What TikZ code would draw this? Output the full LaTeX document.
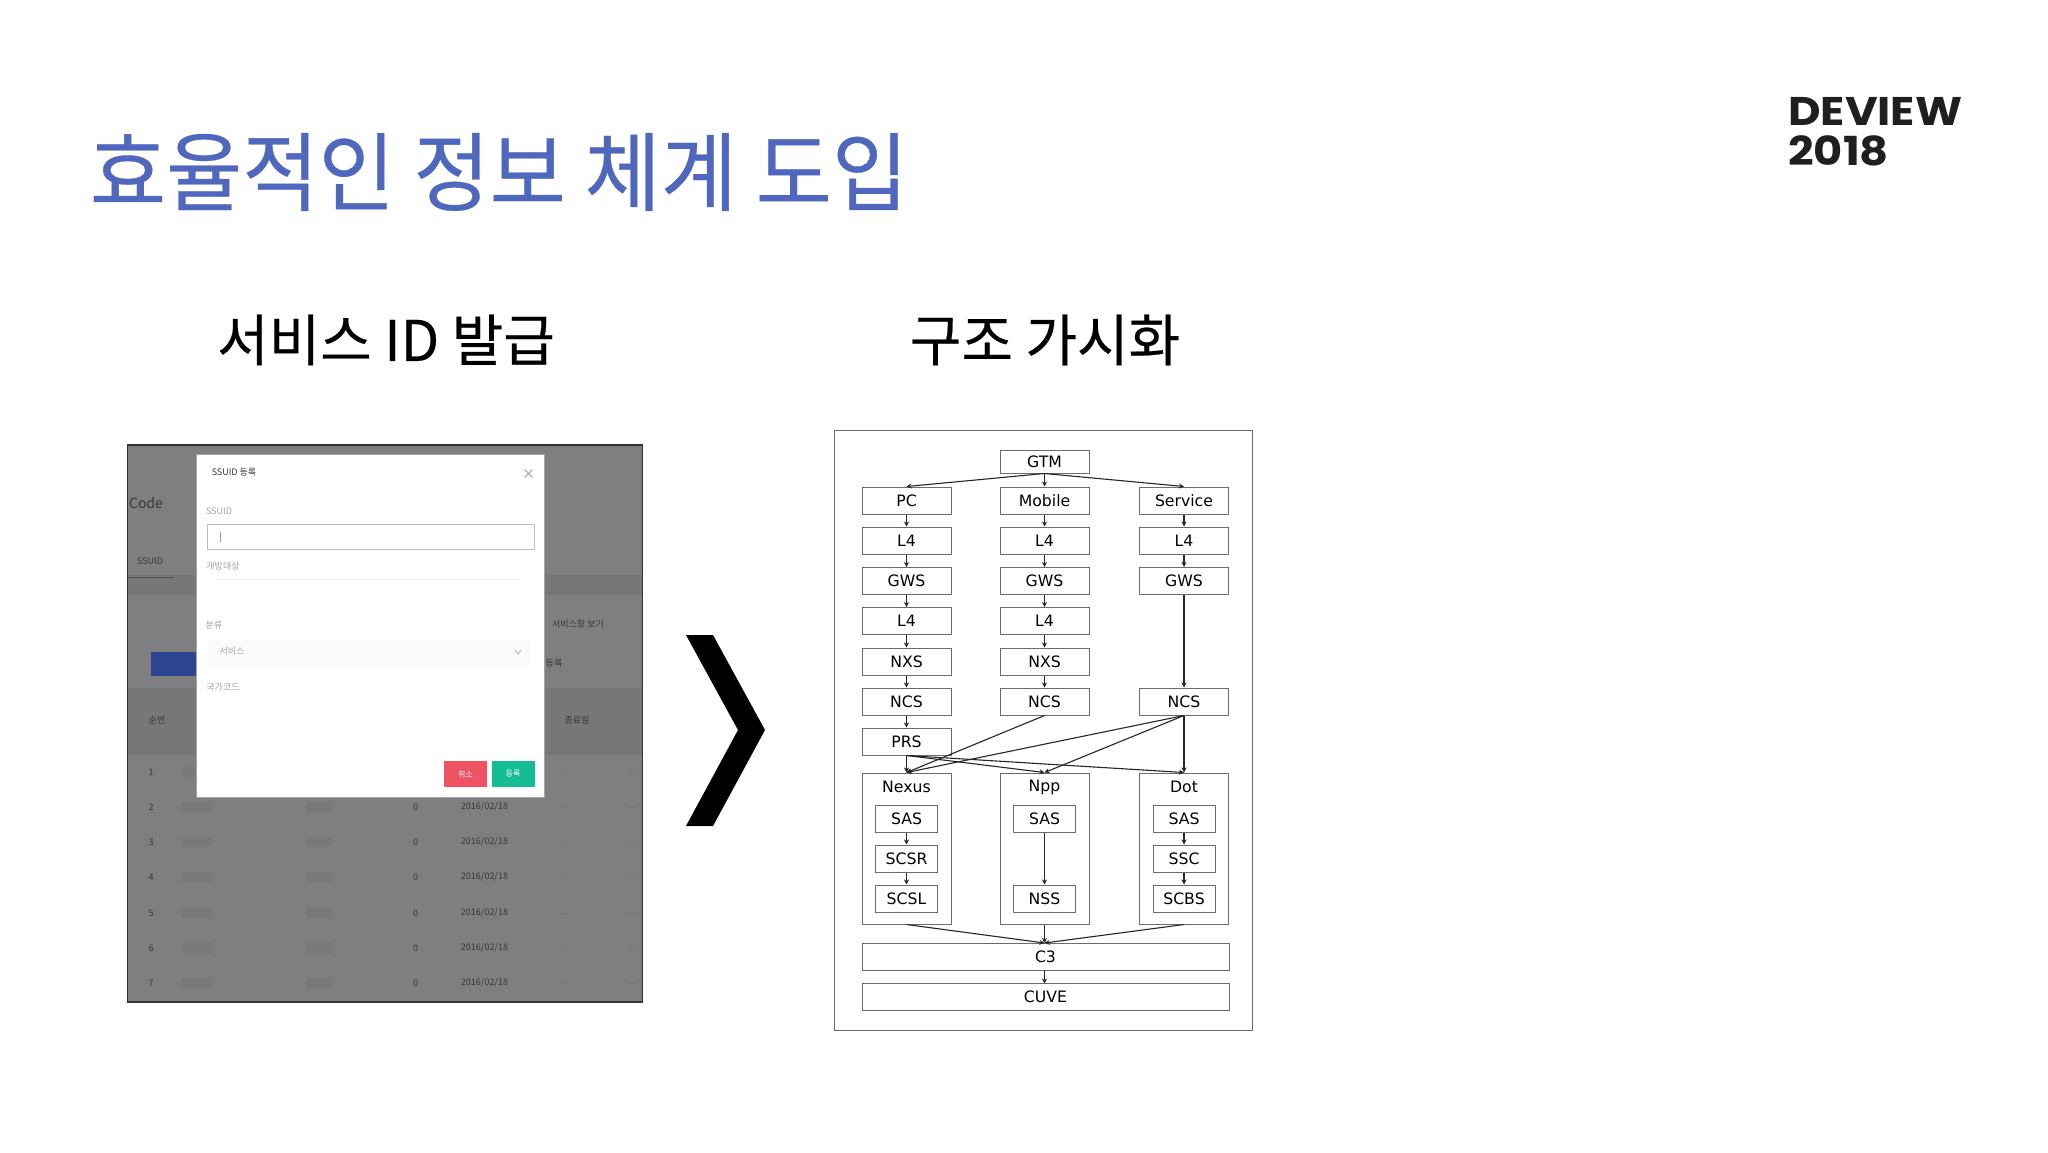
\documentclass[tikz,border=0pt]{standalone}
\usepackage{fontspec}
\setmainfont{Noto Sans CJK KR}
\newfontfamily\headfont[FakeBold=0.4]{Noto Sans CJK KR}
\newfontfamily\boxfont{DejaVu Sans}
\newfontfamily\logofont{Poppins}
\usetikzlibrary{arrows.meta, positioning}
\definecolor{titleblue}{HTML}{4F68BE}
\definecolor{dimgray}{HTML}{7F7F81}
\definecolor{darkgray}{HTML}{38383A}
\definecolor{midgray}{HTML}{777779}
\definecolor{blobgray}{HTML}{79797B}
\definecolor{formgray}{HTML}{A2A2A4}
\definecolor{cancelred}{HTML}{EE5364}
\definecolor{okgreen}{HTML}{16BC94}
\definecolor{addblue}{HTML}{2D4491}
\begin{document}
\begin{tikzpicture}[
    x=1pt, y=-1pt,
    srv/.style={draw=black!58, line width=1pt, fill=white, align=center, inner sep=0pt,
        minimum width=89pt, minimum height=27pt, font=\boxfont\fontsize{15.7}{18}\selectfont},
    sub/.style={srv, minimum width=62pt},
    group/.style={draw=black!58, line width=1pt, minimum width=89pt, minimum height=151pt},
    grouptitle/.style={inner sep=0pt, font=\boxfont\fontsize{15.7}{18}\selectfont},
    wide/.style={srv, minimum width=367pt},
    move/.style={-{Stealth[length=5pt,width=5pt]}, line width=1.1pt, black!85},
    heading/.style={font=\headfont\fontsize{56}{60}\selectfont, inner sep=0pt},
    shot/.style={inner sep=0pt, font=\fontsize{9}{10}\selectfont, text=#1},
    shot/.default=darkgray,
    button/.style={fill=#1, minimum width=43pt, minimum height=26pt, inner sep=0pt,
        text=white, font=\fontsize{8}{9}\selectfont}
]
\useasboundingbox (0,0) rectangle (2048,1152);
\fill[white] (0,0) rectangle (2048,1152);
% headings
\node[inner sep=0pt, xscale=0.964, text=titleblue, font=\headfont\fontsize{86}{90}\selectfont] (title) at (499,172) {효율적인 정보 체계 도입};
\node[heading] (left) at (386,340) {서비스 ID 발급};
\node[heading] (right) at (1045,340) {구조 가시화};
\node[anchor=west, inner sep=0pt, xscale=1.12, align=left, text=black!88, font=\logofont\fontsize{40}{40}\selectfont\bfseries] (logo) at (1788,132) {DEVIEW\\2018};
% screenshot
\node[draw=black!80, line width=1.5pt, fill=dimgray, minimum width=515pt, minimum height=557pt, inner sep=0pt] (shot) at (385,723.5) {};
\fill[midgray] (128,575) rectangle (642,595);
\fill[midgray] (128,688) rectangle (642,755);
\fill[addblue] (151,652) rectangle (197,676);
\node[shot, font=\fontsize{14}{16}\selectfont] (code) at (146,503) {Code};
\node[shot] (tab) at (150,561) {SSUID};
\draw[midgray!70!black, line width=1pt] (128,577) -- (174,577);
\node[shot] (head) at (157,720) {순번};
\node[shot] (find) at (578,624) {서비스찾 보기};
\node[shot] (headr) at (577,720) {종료일};
\node[shot] (addr) at (554,663) {등록};
\foreach \r/\ry in {1/772,2/807,3/842,4/877,5/913,6/948,7/983}{
    \node[shot] (num\r) at (151,\ry) {\r};
    \fill[blobgray] (182,\ry-5) rectangle (212,\ry+5);
    \ifnum\r>1
    \fill[blobgray] (306,\ry-5) rectangle (332,\ry+5);
    \node[shot] (zero\r) at (415.5,\ry) {0};
    \node[shot] (date\r) at (484.5,\ry) {2016/02/18};
    \fi
    \draw[blobgray, line width=1pt] (562,\ry) -- (570,\ry) (628,\ry) -- (636,\ry);
}
\node[draw=black!35, fill=white, minimum width=348pt, minimum height=343pt, inner sep=0pt] (modal) at (370.5,625.5) {};
\node[shot] (mtitle) at (234,472) {SSUID 등록};
\draw[black!30, line width=1.2pt] (524.5,469.5) -- (532.5,477.5) (532.5,469.5) -- (524.5,477.5);
\node[shot=formgray] (lab1) at (219,511) {SSUID};
\node[draw=black!25, line width=1.2pt, fill=white, minimum width=327pt, minimum height=25pt, inner sep=0pt] (field) at (371,537) {};
\draw[black!40, line width=1pt] (220,532) -- (220,542);
\node[shot=formgray] (lab2) at (223,566) {개방대상};
\draw[black!6, line width=1pt] (216,579) -- (520,579);
\node[shot=formgray] (lab3) at (214,625) {분류};
\fill[black!2] (208,640) rectangle (530,665);
\node[shot=formgray] (value) at (232,651) {서비스};
\draw[black!25, line width=1pt] (515,650) -- (518,654) -- (521,650);
\node[shot=formgray] (lab4) at (223,687) {국가코드};
\node[button=cancelred] (cancel) at (465.5,774) {취소};
\node[button=okgreen] (ok) at (513,774) {등록};
\fill[black] (686,635) -- (713,635) -- (765,730) -- (713,826) -- (686,826) -- (738,730) -- cycle;
% structure frame
\node[draw=black!58, line width=1pt, minimum width=418pt, minimum height=600pt, inner sep=0pt] (frame) at (1043.5,730) {};
\node[srv, minimum height=23pt] (GTM) at (1044.5,461.5) {GTM};
\node[srv] (PC) at (906.5,500.5) {PC};
\node[srv] (Mobile) at (1044.5,500.5) {Mobile};
\node[srv] (Service) at (1184,500.5) {Service};
\node[srv] (L4a) at (906.5,540.5) {L4};
\node[srv] (L4b) at (1044.5,540.5) {L4};
\node[srv] (L4c) at (1184,540.5) {L4};
\node[srv] (GWSa) at (906.5,581) {GWS};
\node[srv] (GWSb) at (1044.5,581) {GWS};
\node[srv] (GWSc) at (1184,581) {GWS};
\node[srv] (L4d) at (906.5,621) {L4};
\node[srv] (L4e) at (1044.5,621) {L4};
\node[srv] (NXSa) at (906.5,661.5) {NXS};
\node[srv] (NXSb) at (1044.5,661.5) {NXS};
\node[srv] (NCSa) at (906.5,701.5) {NCS};
\node[srv] (NCSb) at (1044.5,701.5) {NCS};
\node[srv] (NCSc) at (1184,701.5) {NCS};
\node[srv] (PRS) at (906.5,741.5) {PRS};
\node[group] (Nexus) at (906.5,848.5) {};
\node[group] (Npp) at (1044.5,848.5) {};
\node[group] (Dot) at (1184,848.5) {};
\node[grouptitle] (NexusT) at (906.5,787) {Nexus};
\node[grouptitle] (NppT) at (1044.5,787) {Npp};
\node[grouptitle] (DotT) at (1184,787) {Dot};
\node[sub] (SASa) at (906.5,818.5) {SAS};
\node[sub] (SCSR) at (906.5,858.5) {SCSR};
\node[sub] (SCSL) at (906.5,898.5) {SCSL};
\node[sub] (SASb) at (1044.5,818.5) {SAS};
\node[sub] (NSS) at (1044.5,898.5) {NSS};
\node[sub] (SASc) at (1184,818.5) {SAS};
\node[sub] (SSC) at (1184,858.5) {SSC};
\node[sub] (SCBS) at (1184,898.5) {SCBS};
\node[wide] (C3) at (1045.5,956.5) {C3};
\node[wide] (CUVE) at (1045.5,997) {CUVE};
\coordinate (C3in) at (1044.5,943);
\coordinate (CUVEin) at (1044.5,983.5);
\coordinate (C3out) at (1044.5,970);
\draw[move] (GTM.south) -- (PC.north);
\draw[move] (GTM.south) -- (Mobile.north);
\draw[move] (GTM.south) -- (Service.north);
\draw[move] (PC) -- (L4a);
\draw[move] (L4a) -- (GWSa);
\draw[move] (GWSa) -- (L4d);
\draw[move] (L4d) -- (NXSa);
\draw[move] (NXSa) -- (NCSa);
\draw[move] (NCSa) -- (PRS);
\draw[move] (Mobile) -- (L4b);
\draw[move] (L4b) -- (GWSb);
\draw[move] (GWSb) -- (L4e);
\draw[move] (L4e) -- (NXSb);
\draw[move] (NXSb) -- (NCSb);
\draw[move] (Service) -- (L4c);
\draw[move] (L4c) -- (GWSc);
\draw[move] (GWSc) -- (NCSc);
\draw[move] (PRS.south) -- (Nexus.north);
\draw[move] (PRS.south) -- (Npp.north);
\draw[move] (PRS.south) -- (Dot.north);
\draw[move] (NCSb.south) -- (Nexus.north);
\draw[move] (NCSc.south) -- (Nexus.north);
\draw[move] (NCSc.south) -- (Npp.north);
\draw[move] (NCSc.south) -- (Dot.north);
\draw[move] (SASa) -- (SCSR);
\draw[move] (SCSR) -- (SCSL);
\draw[move] (SASb) -- (NSS);
\draw[move] (SASc) -- (SSC);
\draw[move] (SSC) -- (SCBS);
\draw[move] (Nexus.south) -- (C3in);
\draw[move] (Npp.south) -- (C3in);
\draw[move] (Dot.south) -- (C3in);
\draw[move] (C3out) -- (CUVEin);
\end{tikzpicture}
\end{document}
